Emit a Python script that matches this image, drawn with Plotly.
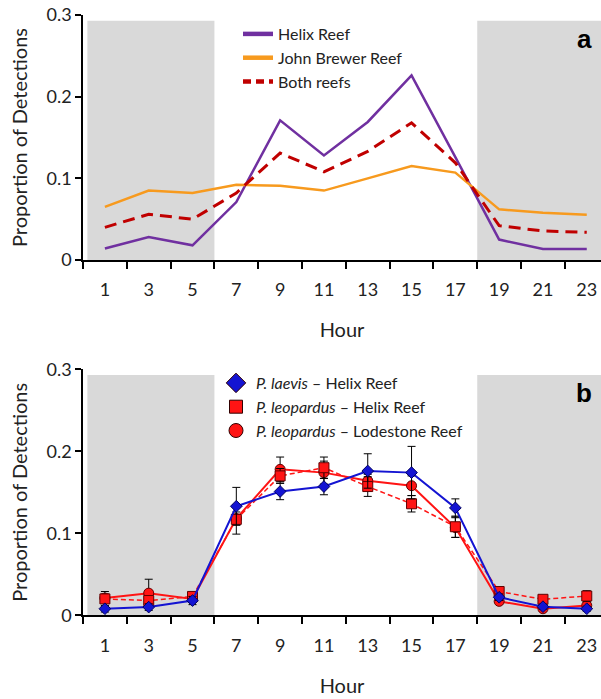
import plotly.graph_objects as go

# ---------------- data ----------------
hours = [1, 3, 5, 7, 9, 11, 13, 15, 17, 19, 21, 23]
tick_labels = [str(h) for h in hours]
minor_ticks = [0, 2, 4, 6, 8, 10, 12, 14, 16, 18, 20, 22, 24]

# panel a
helix = [0.014, 0.028, 0.018, 0.071, 0.171, 0.128, 0.169, 0.226, 0.126, 0.025, 0.0135, 0.0135]
john_brewer = [0.065, 0.085, 0.082, 0.092, 0.091, 0.085, 0.100, 0.115, 0.107, 0.062, 0.058, 0.0555]
both_reefs = [0.040, 0.056, 0.050, 0.082, 0.131, 0.108, 0.133, 0.168, 0.119, 0.042, 0.0355, 0.034]

# panel b
laevis_helix = [0.008, 0.010, 0.018, 0.133, 0.151, 0.157, 0.176, 0.174, 0.131, 0.022, 0.0105, 0.008]
laevis_helix_err = [0.004, 0.004, 0.005, 0.023, 0.010, 0.010, 0.021, 0.032, 0.011, 0.004, 0.003, 0.003]
leop_helix = [0.020, 0.018, 0.023, 0.117, 0.170, 0.180, 0.157, 0.136, 0.108, 0.029, 0.0195, 0.0235]
leop_helix_err = [0.009, 0.006, 0.004, 0.018, 0.009, 0.013, 0.012, 0.010, 0.013, 0.004, 0.003, 0.0065]
leop_lode = [0.021, 0.027, 0.020, 0.118, 0.178, 0.174, 0.164, 0.158, 0.107, 0.017, 0.008, 0.012]
leop_lode_err = [0.005, 0.017, 0.004, 0.008, 0.015, 0.014, 0.008, 0.012, 0.012, 0.003, 0.003, 0.004]

night_periods = [(0.2, 6), (18, 24)]
night_top = 0.293

# ---------------- styling ----------------
FONT = "Lato"
PURPLE = "#7030A0"
ORANGE = "#F79A1E"
DARKRED = "#C00000"
BLUE = "#1414D2"
RED = "#FF1414"
GREY = "#D9D9D9"

fig = go.Figure()

# panel a lines
fig.add_trace(go.Scatter(x=hours, y=helix, mode="lines", line=dict(color=PURPLE, width=2.5),
                         showlegend=False, xaxis="x", yaxis="y"))
fig.add_trace(go.Scatter(x=hours, y=john_brewer, mode="lines", line=dict(color=ORANGE, width=2.5),
                         showlegend=False, xaxis="x", yaxis="y"))
fig.add_trace(go.Scatter(x=hours, y=both_reefs, mode="lines",
                         line=dict(color=DARKRED, width=3, dash="12px,7px"),
                         showlegend=False, xaxis="x", yaxis="y"))
# legend entries panel a
for name, col, dash in [("Helix Reef", PURPLE, "solid"), ("John Brewer Reef", ORANGE, "solid"),
                        ("Both reefs", DARKRED, "8px,5px")]:
    fig.add_trace(go.Scatter(x=[None], y=[None], mode="lines", name=name,
                             line=dict(color=col, width=4.5, dash=dash),
                             legend="legend", xaxis="x", yaxis="y"))

# panel b
err_style = dict(type="data", thickness=1, width=4, color="black")
fig.add_trace(go.Scatter(x=hours, y=leop_lode, mode="lines+markers",
                         line=dict(color=RED, width=2),
                         marker=dict(symbol="circle", size=10, color=RED, line=dict(color="#600000", width=1)),
                         error_y=dict(array=leop_lode_err, **err_style),
                         showlegend=False, cliponaxis=False, xaxis="x2", yaxis="y2"))
fig.add_trace(go.Scatter(x=hours, y=leop_helix, mode="lines+markers",
                         line=dict(color=RED, width=1.5, dash="5px,3px"),
                         marker=dict(symbol="square", size=10, color=RED, line=dict(color="#600000", width=1)),
                         error_y=dict(array=leop_helix_err, **err_style),
                         showlegend=False, cliponaxis=False, xaxis="x2", yaxis="y2"))
fig.add_trace(go.Scatter(x=hours, y=laevis_helix, mode="lines+markers",
                         line=dict(color=BLUE, width=2),
                         marker=dict(symbol="diamond", size=9, color=BLUE, line=dict(color="#000060", width=1)),
                         error_y=dict(array=laevis_helix_err, **err_style),
                         showlegend=False, cliponaxis=False, xaxis="x2", yaxis="y2"))
for name, sym, col, sz in [("<i>P. laevis</i> – Helix Reef", "diamond", BLUE, 15),
                           ("<i>P. leopardus</i> – Helix Reef", "square", RED, 13),
                           ("<i>P. leopardus</i> – Lodestone Reef", "circle", RED, 14)]:
    fig.add_trace(go.Scatter(x=[None], y=[None], mode="markers", name=name,
                             marker=dict(symbol=sym, size=sz, color=col, line=dict(color="#300000", width=1)),
                             legend="legend2", xaxis="x2", yaxis="y2"))

# night shading
shapes = []
for xr, yr in [("x", "y"), ("x2", "y2")]:
    for x0, x1 in night_periods:
        shapes.append(dict(type="rect", xref=xr, yref=yr, x0=x0, x1=x1, y0=0, y1=night_top,
                           fillcolor=GREY, line=dict(width=0), layer="below"))

W, H = 601, 699
L = 83


def xaxis_cfg(domain_anchor):
    return dict(
        range=[0, 23.65], domain=[0, 1], anchor=domain_anchor,
        tickmode="array", tickvals=hours, ticktext=tick_labels,
        ticks="outside", ticklen=13, tickcolor="rgba(0,0,0,0)",
        tickfont=dict(family=FONT, size=18, color="#222"),
        showline=True, linecolor="black", linewidth=1.5,
        showgrid=False, zeroline=False,
        minor=dict(tickmode="array", tickvals=minor_ticks, ticks="outside", ticklen=7,
                   tickcolor="black", tickwidth=1.5, showgrid=False),
        title=dict(text="Hour", font=dict(family=FONT, size=20, color="#222"), standoff=24),
        automargin=False,
    )


def yaxis_cfg(domain, anchor):
    return dict(
        range=[0, 0.3], domain=domain, anchor=anchor,
        tickmode="array", tickvals=[0, 0.1, 0.2, 0.3], ticktext=["0", "0.1", "0.2", "0.3"],
        ticks="outside", ticklen=6, tickcolor="black", tickwidth=1.5,
        tickfont=dict(family=FONT, size=18, color="#222"),
        showline=True, linecolor="black", linewidth=1.5,
        showgrid=False, zeroline=False,
        title=dict(text="Proportion of Detections", font=dict(family=FONT, size=20, color="#222"), standoff=14),
        automargin=False,
    )


fig.update_layout(
    width=W, height=H,
    margin=dict(l=L, r=0, t=0, b=0),
    paper_bgcolor="white", plot_bgcolor="white",
    xaxis=xaxis_cfg("y"),
    yaxis=yaxis_cfg([1 - 260 / H, 1 - 15 / H], "x"),
    xaxis2=xaxis_cfg("y2"),
    yaxis2=yaxis_cfg([1 - 615.3 / H, 1 - 369.3 / H], "x2"),
    shapes=shapes,
    legend=dict(x=(238 - L) / (W - L), y=1 - 17 / H, xanchor="left", yanchor="top",
                bgcolor="rgba(0,0,0,0)", font=dict(family=FONT, size=16, color="#222"),
                itemwidth=30),
    legend2=dict(x=(216 - L) / (W - L), y=1 - 366 / H, xanchor="left", yanchor="top",
                 bgcolor="rgba(0,0,0,0)", font=dict(family=FONT, size=16, color="#222"),
                 itemwidth=30),
    annotations=[
        dict(text="<b>a</b>", x=(584 - L) / (W - L), y=1 - 39 / H, xref="paper", yref="paper",
             xanchor="center", yanchor="middle",
             showarrow=False, font=dict(family="Liberation Sans", size=26, color="black")),
        dict(text="<b>b</b>", x=(584 - L) / (W - L), y=1 - 393 / H, xref="paper", yref="paper",
             xanchor="center", yanchor="middle",
             showarrow=False, font=dict(family="Liberation Sans", size=26, color="black")),
    ],
)

fig.write_html("out.html")
